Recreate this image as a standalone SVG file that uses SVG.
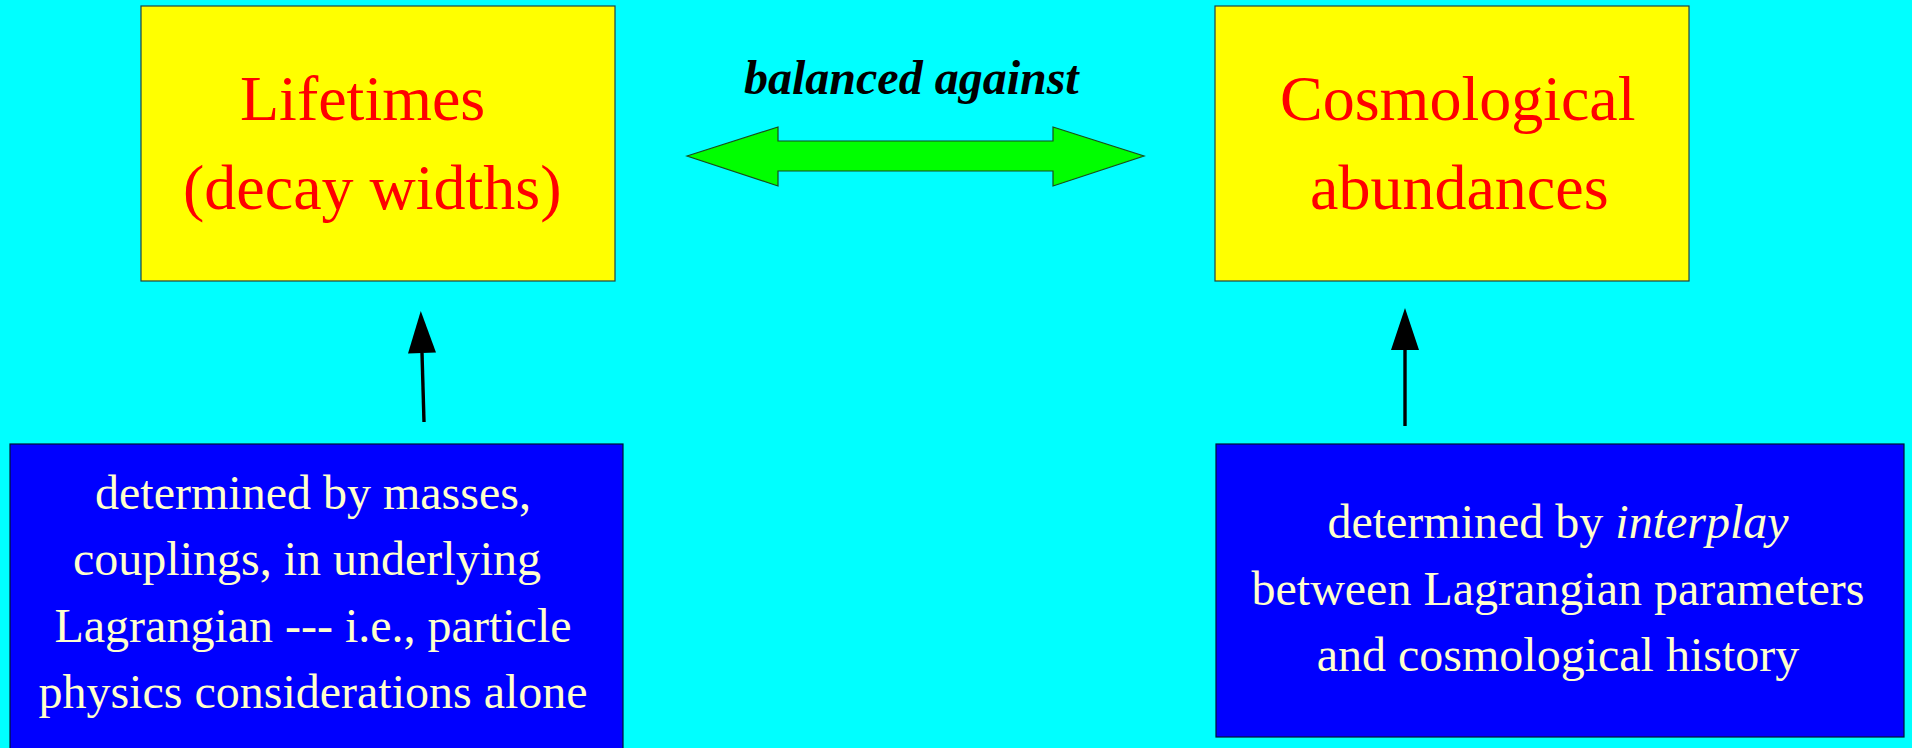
<svg xmlns="http://www.w3.org/2000/svg" width="1912" height="748" viewBox="0 0 1912 748">
  <style>
    .title { font-family: "Liberation Serif", "Times New Roman", serif; font-size: 64px; fill: #ff0000; }
    .note { font-family: "Liberation Serif", "Times New Roman", serif; font-size: 48px; fill: #ffffcc; text-anchor: middle; }
    .label { font-family: "Liberation Serif", "Times New Roman", serif; font-size: 48px; font-weight: bold; font-style: italic; fill: #000000; }
    .yellow { fill: #ffff00; stroke: #224444; stroke-width: 1.2; }
    .blue { fill: #0000ff; stroke: #001133; stroke-width: 1.2; }
    .wire { stroke: #000000; stroke-width: 3.4; fill: none; }
  </style>
  <defs>
    <!-- arrowhead starts at the end of the shaft and points forward -->
    <marker id="head" markerUnits="userSpaceOnUse" markerWidth="44" markerHeight="30" refX="0" refY="14" orient="auto" overflow="visible">
      <path d="M0,0 L42,14 L0,28 Z" fill="#000000"/>
    </marker>
  </defs>

  <rect x="0" y="0" width="1912" height="748" fill="#00ffff"/>

  <g id="lifetimes">
    <rect class="yellow" x="141" y="6" width="474" height="275"/>
    <text class="title" x="240" y="120">Lifetimes</text>
    <text class="title" x="183" y="209">(decay widths)</text>
  </g>

  <g id="abundances">
    <rect class="yellow" x="1215" y="6" width="474" height="275"/>
    <text class="title" x="1280" y="120">Cosmological</text>
    <text class="title" x="1310" y="209">abundances</text>
  </g>

  <g id="particle-physics">
    <rect class="blue" x="10" y="444" width="613" height="310"/>
    <text class="note" x="313" y="509">determined by masses,</text>
    <text class="note" x="307" y="575">couplings, in underlying</text>
    <text class="note" x="313" y="642">Lagrangian --- i.e., particle</text>
    <text class="note" x="313" y="708">physics considerations alone</text>
  </g>

  <g id="interplay">
    <rect class="blue" x="1216" y="444" width="688" height="293"/>
    <text class="note" x="1558" y="538">determined by <tspan font-style="italic">interplay</tspan></text>
    <text class="note" x="1558" y="605">between Lagrangian parameters</text>
    <text class="note" x="1558" y="671">and cosmological history</text>
  </g>

  <g id="connectors">
    <g id="balance">
      <polygon points="687,156 778,127 778,141 1053,141 1053,127 1144,156 1053,186 1053,171 778,171 778,186" fill="#00ff00" stroke="#1a4d1a" stroke-width="1.2"/>
      <text class="label" x="744" y="94">balanced against</text>
    </g>
    <line class="wire" x1="424" y1="422" x2="422" y2="353" marker-end="url(#head)"/>
    <line class="wire" x1="1405" y1="426" x2="1405" y2="350" marker-end="url(#head)"/>
  </g>
</svg>
